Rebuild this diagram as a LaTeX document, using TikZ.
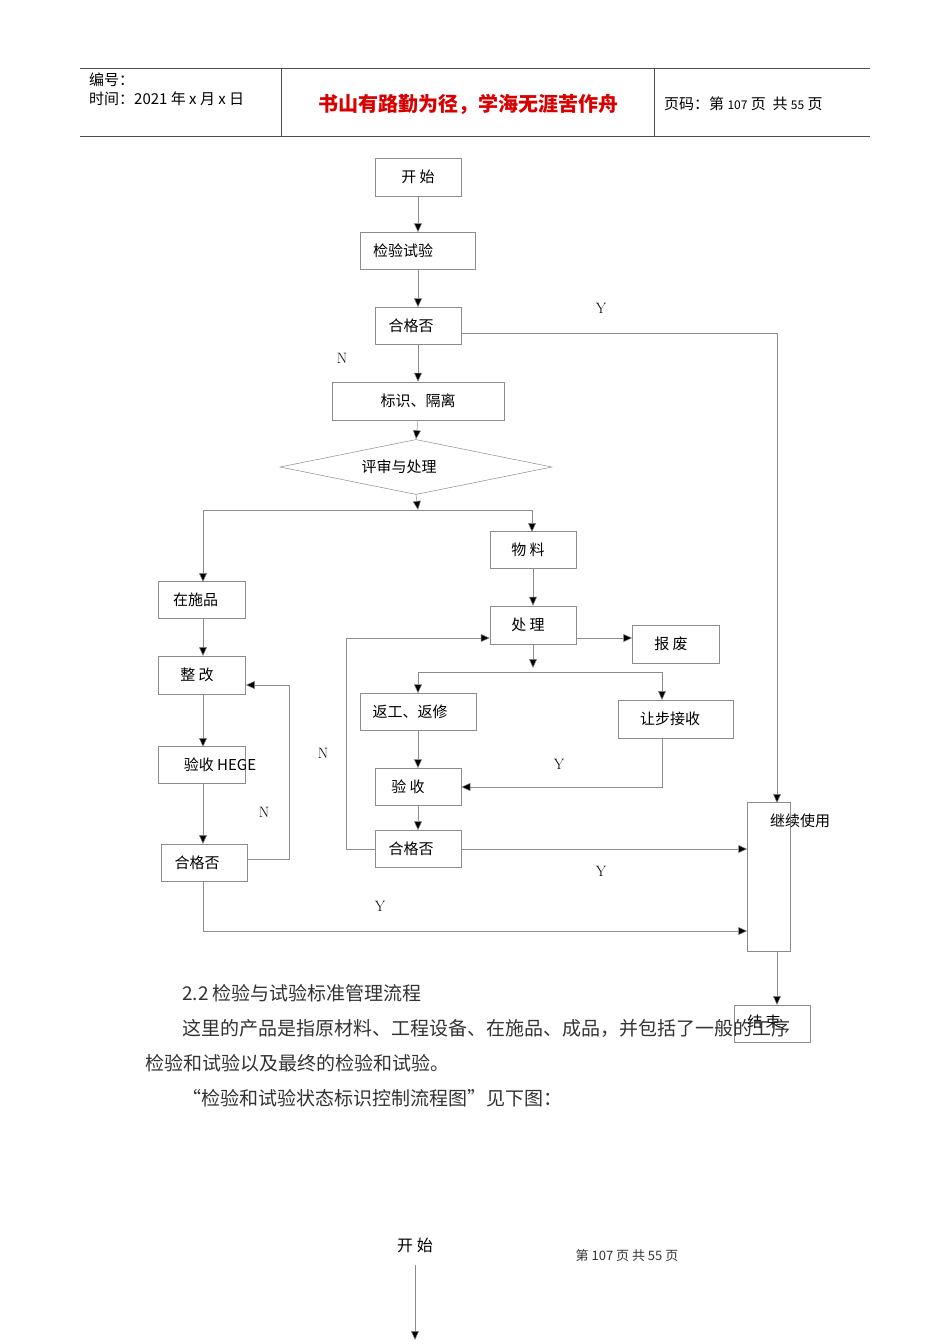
\documentclass[tikz,border=0pt]{standalone}
\usepackage{fontspec}
\usetikzlibrary{arrows.meta,shapes.geometric}
\newfontfamily\cjk{Noto Sans CJK SC}
\begin{document}
\begin{tikzpicture}[x=1pt,y=-1pt,
 box/.style={draw=black!45,line width=0.5pt,inner sep=0pt,font=\cjk\fontsize{15}{15}\selectfont},
 ln/.style={draw=black!45,line width=0.5pt},
 ar/.style={ln,-{Triangle[length=9pt,width=8pt,fill=black]}},
 lbl/.style={font=\fontsize{15}{15}\selectfont},
 body/.style={anchor=west,inner sep=0pt,font=\cjk\fontsize{19}{19}\selectfont,text=black!80}]
\useasboundingbox[fill=white] (0,0) rectangle (950,1344);
% header
\draw[black!70,line width=0.6pt] (80,68)--(870,68) (80,136)--(870,136) (281,68)--(281,136) (654,68)--(654,136);
\node[anchor=west,inner sep=0pt,font=\cjk\fontsize{15}{15}\selectfont] (h1) at (89,80) {编号：};
\node[anchor=west,inner sep=0pt,font=\cjk\fontsize{15}{15}\selectfont] (h2) at (89,99) {时间：2021 年 x 月 x 日};
\node[inner sep=0pt,font=\cjk\bfseries\fontsize{20}{20}\selectfont,text=red!85!black] (h3) at (468,104) {书山有路勤为径，学海无涯苦作舟};
\node[anchor=west,inner sep=0pt,font=\cjk\fontsize{15}{15}\selectfont] (h4) at (664,104) {页码：第 {\fontsize{12}{12}\selectfont 107} 页\ \ 共 {\fontsize{12}{12}\selectfont 55} 页};
% boxes
\node[box,minimum width=86,minimum height=38] (start) at (418,177) {开 始};
\node[box,minimum width=115,minimum height=37] (jy) at (418,251) {\hspace*{-30pt}检验试验};
\node[box,minimum width=86,minimum height=37] (hg1) at (418,326) {\hspace*{-14pt}合格否};
\node[box,minimum width=172,minimum height=38] (bs) at (418,401) {标识、隔离};
\node[box,diamond,aspect=5,minimum width=272,minimum height=55] (ps) at (416,467) {\hspace*{-34pt}评审与处理};
\node[box,minimum width=86,minimum height=37] (wl) at (533,550) {\hspace*{-10pt}物 料};
\node[box,minimum width=87,minimum height=37] (zs) at (202,600) {\hspace*{-13pt}在施品};
\node[box,minimum width=86,minimum height=38] (cl) at (533,625) {\hspace*{-10pt}处 理};
\node[box,minimum width=87,minimum height=38] (bf) at (676,644) {\hspace*{-10pt}报 废};
\node[box,minimum width=87,minimum height=38] (zg) at (202,675) {\hspace*{-10pt}整 改};
\node[box,minimum width=116,minimum height=37] (fg) at (418,712) {\hspace*{-16pt}返工、返修};
\node[box,minimum width=115,minimum height=38] (rb) at (676,719) {\hspace*{-12pt}让步接收};
\node[box,minimum width=87,minimum height=37] (ys) at (202,765) {};
\node[font=\cjk\fontsize{15}{15}\selectfont,inner sep=0pt] (yst) at (220,765) {验收 HEGE};
\node[box,minimum width=86,minimum height=37] (yz) at (418,787) {\hspace*{-20pt}验 收};
\node[box,minimum width=43,minimum height=149] (jx) at (769,877) {};
\node[lbl,font=\cjk\fontsize{15}{15}\selectfont] (jxt) at (800,821) {继续使用};
\node[box,minimum width=86,minimum height=37] (hg2) at (418,849) {\hspace*{-14pt}合格否};
\node[box,minimum width=86,minimum height=37] (hg3) at (204,863) {\hspace*{-14pt}合格否};
\node[box,minimum width=76,minimum height=37] (end) at (772,1024) {};
\node[font=\cjk\fontsize{15}{15}\selectfont] (endt) at (764,1022) {结 束};
% connectors
\draw[ar] (start.south) -- (jy.south |- jy.north);
\draw[ar] (jy.south) -- (hg1.north);
\draw[ar] (hg1.south) -- (bs.north);
\draw[ar] (bs.south) -- (ps.north);
\coordinate (sp) at (418,510);
\draw[ar] (ps.south) -- (sp);
\draw[ln] (203,510) -- (532,510);
\draw[ar] (203,510) -- (203,582);
\draw[ar] (532,510) -- (532,532);
\draw[ar] (wl.south) -- (cl.north);
\draw[ar] (576,638) -- (bf.west |- 0,638);
\draw[ar] (cl.south) -- (533,668);
\draw[ln] (418,672) -- (662,672);
\draw[ar] (418,672) -- (fg.north);
\draw[ar] (662,672) -- (662,700);
\draw[ar] (fg.south) -- (yz.north);
\draw[ar] (662,738) -- (662,787) -- (yz.east |- 0,787);
\draw[ar] (yz.south) -- (hg2.north);
\draw[ar] (hg2.west) -- (346,849) -- (346,638) -- (cl.west |- 0,638);
\draw[ar] (hg2.east) -- (jx.west |- hg2.east);
\draw[ar] (hg1.east |- 0,333) -- (777,333) -- (777,803);
\draw[ar] (777,952) -- (777,1005);
\draw[ar] (zs.south -| 203,0) -- (203,656);
\draw[ar] (203,694) -- (203,747);
\draw[ar] (203,784) -- (203,844);
\draw[ar] (hg3.east |- 0,859) -- (289,859) -- (289,685) -- (zg.east |- 0,685);
\draw[ar] (203,881) -- (203,931) -- (jx.west |- 0,931);
% labels
\node[lbl] (l1) at (601,308) {Y};
\node[lbl] (l2) at (342,358) {N};
\node[lbl] (l3) at (323,753) {N};
\node[lbl] (l4) at (559,764) {Y};
\node[lbl] (l5) at (264,812) {N};
\node[lbl] (l6) at (601,871) {Y};
\node[lbl] (l7) at (380,906) {Y};
% body
\node[body] (b1) at (182,993) {2.2 检验与试验标准管理流程};
\node[body] (b2) at (182,1028) {这里的产品是指原材料、工程设备、在施品、成品，并包括了一般的工序};
\node[body] (b3) at (145,1063) {检验和试验以及最终的检验和试验。};
\node[body] (b4) at (182,1098) {“检验和试验状态标识控制流程图”见下图：};
\node[font=\cjk\fontsize{16}{16}\selectfont] (s2) at (415,1245) {开 始};
\node[font=\cjk\fontsize{13}{13}\selectfont,text=black!80] (ft) at (627,1256) {第 107 页 共 55 页};
\coordinate (e2) at (415,1340);
\draw[ar] (415,1265) -- (e2);
\end{tikzpicture}
\end{document}
